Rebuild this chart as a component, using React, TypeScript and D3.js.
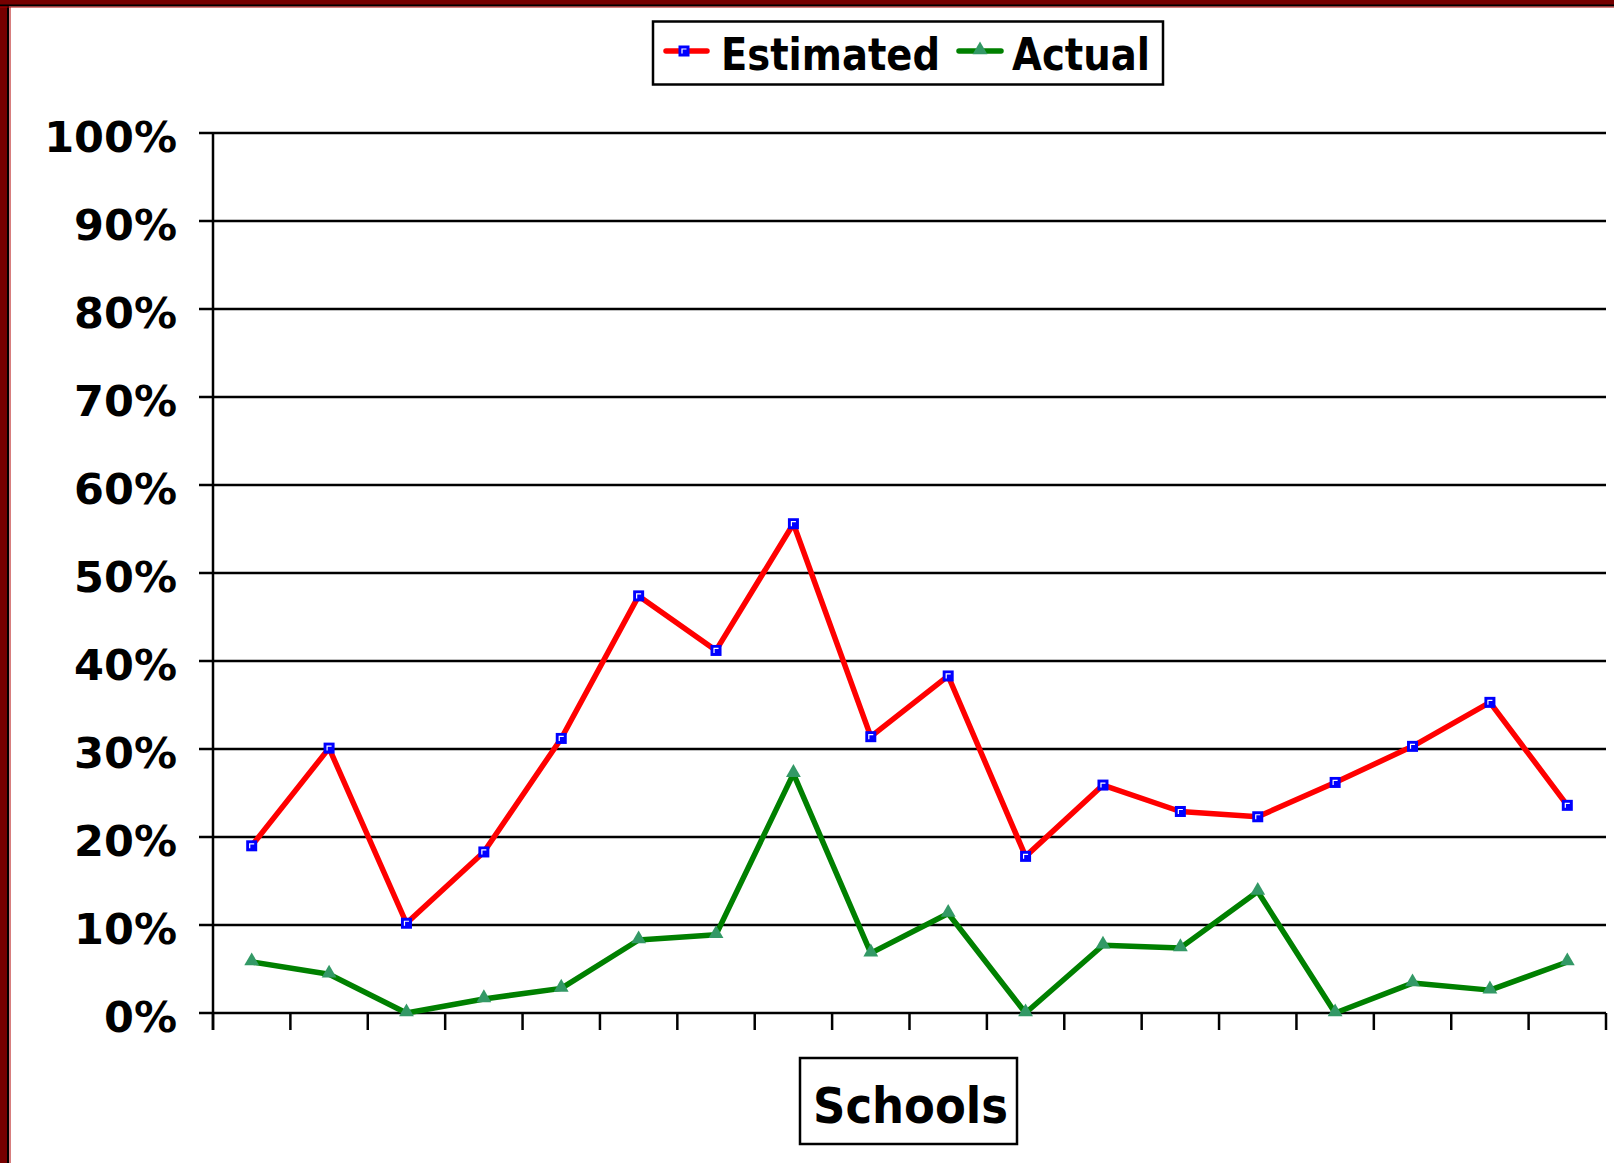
import React from 'react';
import * as d3 from 'd3';

// values, one per school (fraction 0..1)
const schools = d3.range(1, 19).map(i => `School ${i}`);
const estimated = [0.19, 0.301, 0.102, 0.183, 0.312, 0.474, 0.412, 0.556, 0.314, 0.383, 0.178, 0.259, 0.229, 0.223, 0.262, 0.303, 0.353, 0.236];
const actual = [0.058, 0.044, 0.0, 0.016, 0.028, 0.083, 0.089, 0.272, 0.068, 0.113, 0.0, 0.077, 0.074, 0.138, 0.0, 0.034, 0.026, 0.058];
const yTicks = [0, 0.1, 0.2, 0.3, 0.4, 0.5, 0.6, 0.7, 0.8, 0.9, 1.0];

const W = 1614;
const H = 1163;
const FONT = "'DejaVu Sans', Verdana, sans-serif";
const BORDER = '#760000';

const App: React.FC = () => {
  const x = d3.scaleBand<string>().domain(schools).range([213, 1606]).paddingInner(0).paddingOuter(0);
  const y = d3.scaleLinear().domain([0, 1]).range([1013, 133]);
  const cx = (s: string) => (x(s) ?? 0) + x.bandwidth() / 2;

  const line = d3.line<number>()
    .x((_, i) => cx(schools[i]))
    .y(d => y(d));

  const tri = d3.symbol().type(d3.symbolTriangle).size(95);
  const boundaries = [...schools.map(s => x(s) ?? 0), 1606];

  const square = (px: number, py: number, key: string) => (
    <g key={key}>
      <rect x={px - 5.5} y={py - 5.5} width={11} height={11} fill="#0000ff" />
      <path d={`M${px - 2},${py + 2.5}V${py - 2}H${px + 2.5}`} stroke="#fff" strokeWidth={1.2} fill="none" />
    </g>
  );

  return (
    <svg width={W} height={H} style={{ position: 'absolute', left: 0, top: 0, background: '#fff' }} fontFamily={FONT}>
      {/* frame edges */}
      <rect x={0} y={0} width={W} height={5} fill={BORDER} />
      <rect x={0} y={0} width={8} height={H} fill={BORDER} />
      <line x1={0} x2={W} y1={5.5} y2={5.5} stroke="#000" strokeWidth={2} />
      <line x1={8} x2={8} y1={5} y2={H} stroke="#000" strokeWidth={2} />
      <line x1={0} x2={W} y1={7} y2={7} stroke="#b00000" strokeWidth={1} />
      <line x1={10} x2={10} y1={7} y2={H} stroke="#b00000" strokeWidth={1} />

      {/* gridlines + y labels */}
      {yTicks.map(t => (
        <g key={t}>
          <line x1={199} x2={1606} y1={y(t)} y2={y(t)} stroke="#000" strokeWidth={2.5} />
          <text x={177} y={y(t) + 19} textAnchor="end" fontWeight="bold" fontSize={43} fill="#000">
            {`${Math.round(t * 100)}%`}
          </text>
        </g>
      ))}
      <line x1={213} x2={213} y1={133} y2={1030} stroke="#000" strokeWidth={2.5} />
      {boundaries.map((bx, i) => (
        <line key={i} x1={bx} x2={bx} y1={1013} y2={1030} stroke="#000" strokeWidth={2.5} />
      ))}

      {/* series */}
      <path d={line(estimated) ?? ''} fill="none" stroke="#ff0000" strokeWidth={5.5} strokeLinejoin="round" />
      <path d={line(actual) ?? ''} fill="none" stroke="#008000" strokeWidth={5.5} strokeLinejoin="round" />
      {estimated.map((v, i) => square(cx(schools[i]), y(v), `e${i}`))}
      {actual.map((v, i) => (
        <path key={`a${i}`} d={tri() ?? ''} transform={`translate(${cx(schools[i])},${y(v) - 1})`} fill="#339966" />
      ))}

      {/* legend */}
      <rect x={653} y={21.5} width={510} height={63} fill="#fff" stroke="#000" strokeWidth={2.5} />
      <line x1={666} x2={707} y1={51} y2={51} stroke="#ff0000" strokeWidth={5.5} strokeLinecap="round" />
      {square(684, 51, 'legE')}
      <text x={721} y={70} fontWeight="bold" fontSize={45} textLength={219} lengthAdjust="spacingAndGlyphs">Estimated</text>
      <line x1={959} x2={1001} y1={51} y2={51} stroke="#008000" strokeWidth={5.5} strokeLinecap="round" />
      <path d={tri() ?? ''} transform="translate(980,50)" fill="#339966" />
      <text x={1012} y={70} fontWeight="bold" fontSize={45} textLength={138} lengthAdjust="spacingAndGlyphs">Actual</text>

      {/* x axis title */}
      <rect x={800} y={1058} width={217} height={86} fill="#fff" stroke="#000" strokeWidth={2.5} />
      <text x={813} y={1123} fontWeight="bold" fontSize={49} textLength={195} lengthAdjust="spacingAndGlyphs">Schools</text>
    </svg>
  );
};

export default App;
